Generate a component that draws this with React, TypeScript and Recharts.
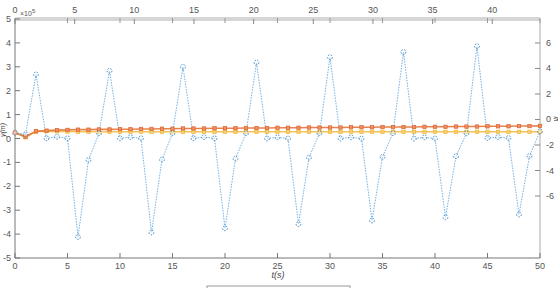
import React from "react";
import { ComposedChart, Line, XAxis, YAxis } from "recharts";

const tValues = [0,1,2,3,4,5,6,7,8,9,10,11,12,13,14,15,16,17,18,19,20,21,22,23,24,25,26,27,28,29,30,31,32,33,34,35,36,37,38,39,40,41,42,43,44,45,46,47,48,49,50];
const blueSeries = [0.24,0.18,2.68,0.01,0.07,0.01,-4.12,-0.9,0.22,2.83,0.01,0.06,0.01,-3.93,-0.88,0.22,3.0,0.01,0.06,0.01,-3.76,-0.84,0.22,3.18,0.0,0.05,0.0,-3.58,-0.8,0.22,3.4,0.0,0.05,0.0,-3.43,-0.77,0.22,3.62,0.0,0.05,0.0,-3.3,-0.74,0.22,3.86,0.02,0.06,0.02,-3.18,-0.73,0.3];
const orangeSeries = [0.24,0.08,0.3,0.33,0.35,0.36,0.37,0.37,0.38,0.38,0.39,0.39,0.4,0.4,0.41,0.41,0.42,0.42,0.42,0.43,0.43,0.43,0.44,0.44,0.44,0.45,0.45,0.45,0.46,0.46,0.46,0.46,0.47,0.47,0.47,0.48,0.48,0.48,0.48,0.49,0.49,0.49,0.5,0.5,0.5,0.51,0.51,0.51,0.52,0.52,0.53];
const yellowSeries = [0.24,0.05,0.29,0.31,0.3,0.29,0.28,0.28,0.28,0.28,0.28,0.28,0.28,0.28,0.28,0.28,0.28,0.28,0.28,0.28,0.28,0.28,0.28,0.28,0.28,0.28,0.28,0.28,0.28,0.28,0.28,0.28,0.28,0.28,0.28,0.28,0.28,0.28,0.28,0.28,0.28,0.28,0.28,0.28,0.28,0.28,0.28,0.28,0.28,0.28,0.28];

const bottomTicks = [0,5,10,15,20,25,30,35,40,45,50];
const topTicks = [0,5,10,15,20,25,30,35,40];
const leftTicks = [-5,-4,-3,-2,-1,0,1,2,3,4,5];
const rightTicks = [-6,-4,-2,0,2,4,6];

const data = tValues.map((t, i) => ({ t, blue: blueSeries[i], orange: orangeSeries[i], yellow: yellowSeries[i] }));

const FONT = "'Liberation Sans', Arial, sans-serif";
const TXT = "#555";

const BottomTick = (p: any) => (
  <g>
    <line x1={p.x} x2={p.x} y1={p.y} y2={p.y - 5} stroke="#777" strokeWidth={1} />
    <text x={p.x} y={p.y + 11} textAnchor="middle" fontSize={9} fill={TXT} fontFamily={FONT}>{p.payload.value}</text>
  </g>
);
const TopTick = (p: any) => (
  <g>
    <line x1={p.x} x2={p.x} y1={p.y} y2={p.y + 5} stroke="#888" strokeWidth={1} />
    <text x={p.x} y={p.y - 6} textAnchor="middle" fontSize={9} fill={TXT} fontFamily={FONT}>{p.payload.value}</text>
  </g>
);
const TopMirrorTick = (p: any) => (
  <line x1={p.x} x2={p.x} y1={p.y} y2={p.y + 5} stroke="#999" strokeWidth={1} />
);
const LeftTick = (p: any) => (
  <g>
    <line x1={p.x} x2={p.x + 5} y1={p.y} y2={p.y} stroke="#777" strokeWidth={1} />
    <text x={p.x - 4} y={p.y + 3} textAnchor="end" fontSize={9} fill={TXT} fontFamily={FONT}>{p.payload.value}</text>
  </g>
);
const RightTick = (p: any) => (
  <g>
    <line x1={p.x} x2={p.x - 5} y1={p.y} y2={p.y} stroke="#888" strokeWidth={1} />
    <text x={p.x + 6} y={p.y + 3} textAnchor="start" fontSize={9} fill={TXT} fontFamily={FONT}>{p.payload.value}</text>
  </g>
);
const RightMirrorTick = (p: any) => (
  <line x1={p.x} x2={p.x - 5} y1={p.y} y2={p.y} stroke="#999" strokeWidth={1} />
);

const SquareDot = (fill: string, stroke: string) => (p: any) => {
  if (p.cx == null || p.cy == null) return <g key={p.index} />;
  return <rect key={p.index} x={p.cx - 1.7} y={p.cy - 1.7} width={3.4} height={3.4} fill={fill} stroke={stroke} strokeWidth={0.7} strokeOpacity={0.85} />;
};

export default function App() {
  return (
    <div style={{ position: "absolute", left: 0, top: 0, width: 558, height: 288, background: "#fff" }}>
      <ComposedChart width={558} height={288} data={data} margin={{ top: 17, right: 16, bottom: 29, left: 14 }}>
        <XAxis xAxisId="b" dataKey="t" type="number" domain={[0, 50]} ticks={bottomTicks} height={1} tickSize={0} tickMargin={0} tickLine={false} axisLine={{ stroke: "#777" }} tick={BottomTick} interval={0} />
        <XAxis xAxisId="t" orientation="top" dataKey="t" type="number" domain={[0, 44]} allowDataOverflow ticks={topTicks} height={1} tickSize={0} tickMargin={0} tickLine={false} axisLine={{ stroke: "#d6d6d6", strokeWidth: 4 }} tick={TopTick} interval={0} />
        <XAxis xAxisId="tm" orientation="top" dataKey="t" type="number" domain={[0, 50]} ticks={bottomTicks} height={1} tickSize={0} tickMargin={0} tickLine={false} axisLine={false} tick={TopMirrorTick} interval={0} />
        <YAxis yAxisId="l" type="number" domain={[-5, 5]} ticks={leftTicks} width={1} tickSize={0} tickMargin={0} tickLine={false} axisLine={{ stroke: "#777" }} tick={LeftTick} interval={0} />
        <YAxis yAxisId="r" orientation="right" type="number" domain={[-10.86, 7.88]} allowDataOverflow ticks={rightTicks} width={1} tickSize={0} tickMargin={0} tickLine={false} axisLine={{ stroke: "#aaa" }} tick={RightTick} interval={0} />
        <YAxis yAxisId="rm" orientation="right" type="number" domain={[-5, 5]} ticks={leftTicks} width={1} tickSize={0} tickMargin={0} tickLine={false} axisLine={false} tick={RightMirrorTick} interval={0} />
        <Line xAxisId="b" yAxisId="l" dataKey="yellow" stroke="#f1bb4a" strokeWidth={1.6} strokeOpacity={0.9} dot={SquareDot("#f7cf7a", "#edb120")} isAnimationActive={false} />
        <Line xAxisId="b" yAxisId="l" dataKey="orange" stroke="#e3773b" strokeWidth={1.6} strokeOpacity={0.9} dot={SquareDot("#f0906a", "#d95319")} isAnimationActive={false} />
        <Line xAxisId="b" yAxisId="l" dataKey="blue" stroke="#6fb2e6" strokeWidth={1} strokeDasharray="1.5 1.2" dot={{ r: 2.4, stroke: "#2b7bbd", strokeWidth: 1, fill: "#fff", fillOpacity: 0.4, strokeOpacity: 0.85 }} isAnimationActive={false} />
      </ComposedChart>
      <svg width={558} height={288} style={{ position: "absolute", left: 0, top: 0, pointerEvents: "none" }}>
        <text x={20} y={16} fontSize={7} fill={TXT} fontFamily={FONT}>×10<tspan dy={-3} fontSize={6}>5</tspan></text>
        <text x={278} y={278} textAnchor="middle" fontSize={9} fill="#444" fontFamily={FONT} fontStyle="italic">t(s)</text>
        <text x={0} y={0} transform="translate(5,130) rotate(-90)" textAnchor="middle" fontSize={7} fill="#444" fontFamily={FONT} fontStyle="italic">y(m)</text>
        <text x={0} y={0} transform="translate(558,119) rotate(-90)" textAnchor="middle" fontSize={7} fill="#444" fontFamily={FONT} fontStyle="italic">ψ</text>
        <rect x={207} y={286} width={143} height={20} fill="#fff" stroke="#999" strokeWidth={1} />
      </svg>
    </div>
  );
}
